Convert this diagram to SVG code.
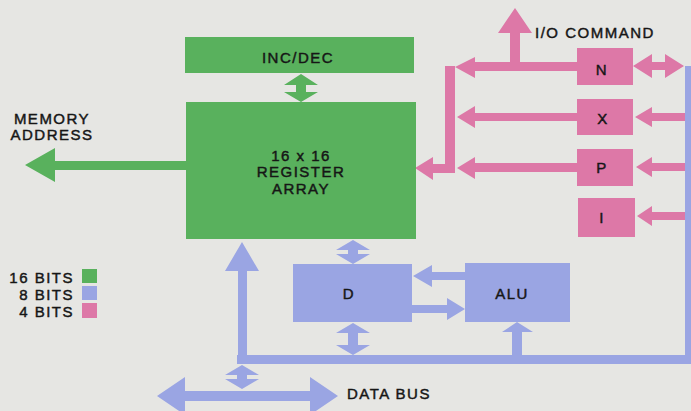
<svg xmlns="http://www.w3.org/2000/svg" width="691" height="411" viewBox="0 0 691 411">
<style>
  .g { fill: #59b15d; }
  .b { fill: #9aa5e3; }
  .p { fill: #dd78a7; }
  text { font-family: "Liberation Sans", Arial, sans-serif; font-size: 15px; fill: #161616; stroke: #161616; stroke-width: 0.45px; letter-spacing: 1.5px; }
  .c { text-anchor: middle; }
  .e { text-anchor: end; }
</style>
<rect x="0" y="0" width="691" height="411" fill="#e6e6e3"/>

<g id="connectors">
  <!-- green -->
  <polygon class="g" points="25,165 55,148 55,161 187,161 187,170 55,170 55,182"/>
  <polygon class="g" points="301,74 318,85 306,85 306,92 318,92 301,102 284,92 296,92 296,85 284,85"/>
  <!-- pink -->
  <polygon class="p" points="577,62 475,62 475,57 455,67 475,78 475,71 577,71"/>
  <rect class="p" x="445" y="66" width="10" height="107"/>
  <polygon class="p" points="455,164 433,164 433,157 415,168 433,180 433,173 455,173"/>
  <polygon class="p" points="510,62 510,33 498,33 515,8 532,33 520,33 520,66 510,66"/>
  <polygon class="p" points="577,113 475,113 475,106 457,117 475,128 475,121 577,121"/>
  <polygon class="p" points="577,163 475,163 475,157 457,168 475,179 475,172 577,172"/>
  <polygon class="p" points="633,66 652,54 652,62 665,62 665,54 684,66 665,78 665,70 652,70 652,78"/>
  <polygon class="p" points="635,117 652,107 652,113 686,113 686,121 652,121 652,127"/>
  <polygon class="p" points="636,167 652,157 652,163 686,163 686,171 652,171 652,177"/>
  <polygon class="p" points="637,216 652,206 652,212 686,212 686,220 652,220 652,226"/>
  <!-- blue -->
  <rect class="b" x="685" y="66" width="10" height="298"/>
  <rect class="b" x="237" y="355" width="458" height="9"/>
  <polygon class="b" points="238,364 238,271 225,271 242,242 259,271 247,271 247,364"/>
  <polygon class="b" points="353,240 370,250 358,250 358,254 370,254 353,264 336,254 348,254 348,250 336,250"/>
  <polygon class="b" points="353,323 370,333 358,333 358,345 370,345 353,355 336,345 348,345 348,333 336,333"/>
  <polygon class="b" points="242,365 259,375 247,375 247,379 259,379 242,389 225,379 237,379 237,375 225,375"/>
  <polygon class="b" points="157,396 185,377 185,391 310,391 310,377 338,396 310,415 310,401 185,401 185,415"/>
  <polygon class="b" points="465,272 432,272 432,265 413,276 432,287 432,280 465,280"/>
  <polygon class="b" points="412,305 447,305 447,298 465,309 447,320 447,313 412,313"/>
  <polygon class="b" points="512,356 512,332 502,332 517,322 533,332 522,332 522,356"/>
</g>

<g id="inc_dec">
  <rect class="g" x="185" y="37" width="229" height="36"/>
  <text class="c" x="298" y="63">INC/DEC</text>
</g>
<g id="register_array">
  <rect class="g" x="186" y="102" width="230" height="137"/>
  <text class="c" x="301" y="160.5">16 x 16</text>
  <text class="c" x="301" y="177">REGISTER</text>
  <text class="c" x="301" y="193.5">ARRAY</text>
</g>
<g id="n_reg">
  <rect class="p" x="577" y="48" width="56" height="37"/>
  <text class="c" x="602" y="75">N</text>
</g>
<g id="x_reg">
  <rect class="p" x="577" y="99" width="56" height="36"/>
  <text class="c" x="603" y="124">X</text>
</g>
<g id="p_reg">
  <rect class="p" x="577" y="149" width="56" height="37"/>
  <text class="c" x="602" y="173">P</text>
</g>
<g id="i_reg">
  <rect class="p" x="578" y="198" width="57" height="39"/>
  <text class="c" x="602" y="223">I</text>
</g>
<g id="d_reg">
  <rect class="b" x="293" y="264" width="119" height="58"/>
  <text class="c" x="349" y="299">D</text>
</g>
<g id="alu">
  <rect class="b" x="465" y="263" width="105" height="59"/>
  <text class="c" x="512" y="299">ALU</text>
</g>

<g id="labels">
  <text class="c" x="52" y="124">MEMORY</text>
  <text class="c" x="52" y="140">ADDRESS</text>
  <text x="535" y="38">I/O COMMAND</text>
  <text x="347" y="399">DATA BUS</text>
</g>

<g id="legend">
  <text class="e" x="74" y="283">16 BITS</text>
  <text class="e" x="74" y="300">8 BITS</text>
  <text class="e" x="74" y="317">4 BITS</text>
  <rect class="g" x="82" y="269" width="15" height="14"/>
  <rect class="b" x="82" y="286" width="15" height="14"/>
  <rect class="p" x="82" y="303" width="15" height="15"/>
</g>
</svg>
